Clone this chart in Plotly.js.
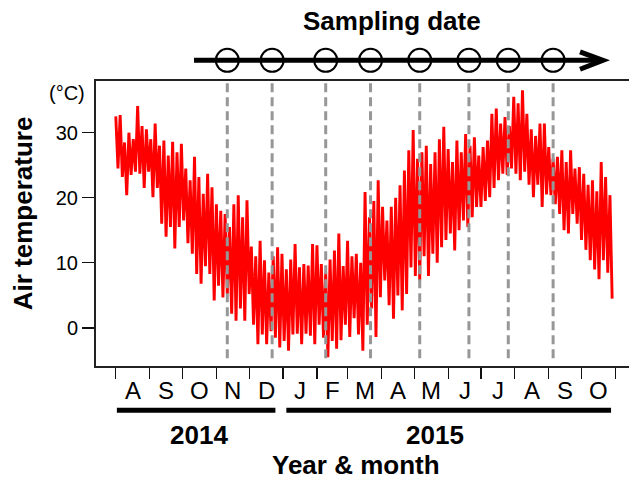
<!DOCTYPE html>
<html>
<head>
<meta charset="utf-8">
<script src="https://cdn.plot.ly/plotly-3.0.1.min.js"></script>
<style>html,body{margin:0;padding:0;background:#fff;}#chart{width:629px;height:479px;}</style>
</head>
<body>
<div id="chart"></div>
<script>
// ---- data ----
// first day of the series, values every 4 days (max) and offset by 2 days (min)
const seriesStart = '2014-08-01';
const dailyMax = [32.5,32.7,28.5,30.0,29.0,34.1,31.0,30.5,29.0,31.4,28.0,28.8,26.5,28.6,27.0,28.3,24.5,22.7,26.3,23.2,
  20.6,23.7,21.6,19.0,18.0,17.5,15.5,19.0,20.4,17.0,19.6,12.5,11.0,13.4,10.4,8.5,11.0,12.4,11.4,9.0,
  10.5,12.9,9.3,9.8,9.6,12.9,12.7,9.8,8.5,10.5,11.9,14.5,9.5,13.4,11.0,11.4,10.0,20.9,17.0,19.5,
  22.7,18.6,16.5,18.6,20.0,21.9,24.2,27.3,30.4,26.0,27.0,28.0,25.2,27.0,29.0,30.9,27.5,25.5,28.8,27.0,
  29.8,28.0,29.3,26.5,27.8,28.8,32.9,33.7,31.4,32.4,31.0,35.5,34.5,36.5,32.9,30.5,29.5,31.4,31.4,27.8,
  26.0,26.3,27.3,25.5,27.3,24.5,24.7,23.7,22.0,22.7,21.0,25.5,23.2,20.4];
const dailyMin = [24.5,23.2,20.4,23.5,24.0,23.7,21.5,24.0,20.1,21.5,16.0,14.0,15.5,12.2,15.5,16.5,13.0,11.4,8.3,6.8,
  9.5,8.3,4.2,6.5,4.7,5.2,2.2,1.1,3.0,1.1,5.2,0.5,-2.5,-1.0,-2.5,-0.5,-1.5,-3.0,-2.0,-3.5,
  -1.0,-0.9,-2.5,-0.9,-1.2,-2.5,0.5,-1.5,-4.5,-2.0,-3.2,-1.9,0.5,-1.4,1.5,-1.0,-3.5,0.5,3.0,-1.4,
  4.7,7.3,3.5,1.4,5.0,2.7,5.2,9.3,8.0,7.3,11.0,8.0,11.4,10.0,12.4,13.5,14.5,11.9,15.0,16.5,
  15.5,17.0,18.6,18.6,19.5,20.1,21.5,22.7,23.7,23.5,24.5,23.7,22.7,24.0,22.0,20.1,22.0,18.6,20.5,20.4,
  19.0,17.5,15.0,14.5,17.5,16.0,13.5,12.0,10.4,9.0,7.5,10.4,8.5,4.5];
const stepDays = 4;

// x axis: month boundaries and month letters
const monthStarts = ['2014-08-01','2014-09-01','2014-10-01','2014-11-01','2014-12-01','2015-01-01','2015-02-01',
  '2015-03-01','2015-04-01','2015-05-01','2015-06-01','2015-07-01','2015-08-01','2015-09-01','2015-10-01','2015-11-01'];
const monthLetters = ['A','S','O','N','D','J','F','M','A','M','J','J','A','S','O'];
const yTicks = [0,10,20,30];

// sampling dates
const sampleDates = ['2014-11-11','2014-12-22','2015-02-09','2015-03-22','2015-05-06','2015-06-20','2015-07-26','2015-09-05'];

// year bars
const yearLabels = ['2014','2015'];
const yearBarStart = ['2014-08-02','2015-01-04'];
const yearBarEnd = ['2014-12-25','2015-10-28'];

// ---- build ----
const DAY = 86400000;
const t0 = Date.parse(seriesStart + 'T00:00:00Z');
function iso(ms){ return new Date(ms).toISOString().slice(0,19).replace('T',' '); }
const lineX = [], lineY = [];
dailyMax.forEach((v,i)=>{
  lineX.push(iso(t0 + i*stepDays*DAY)); lineY.push(v);
  lineX.push(iso(t0 + (i*stepDays + stepDays/2)*DAY)); lineY.push(dailyMin[i]);
});

const midMonths = monthLetters.map((m,i)=>{
  const a = Date.parse(monthStarts[i]+'T00:00:00Z'), b = Date.parse(monthStarts[i+1]+'T00:00:00Z');
  return iso((a+b)/2);
});

const xRange = ['2014-07-13 21:36','2015-11-13 10:00'];
const FONT = 'Liberation Sans, Arial, Helvetica, sans-serif';

const traces = [{
  x: lineX, y: lineY, type: 'scatter', mode: 'lines',
  line: {color: '#ff0000', width: 2.9},
  hoverinfo: 'skip', showlegend: false
}];

const shapes = [];
sampleDates.forEach(d=>{
  shapes.push({type:'line', xref:'x', yref:'paper', x0:d, x1:d, y0:0.027, y1:1,
    line:{color:'#979797', width:3, dash:'9px,5px'}, layer:'above'});
});
// arrow
shapes.push({type:'line', xref:'paper', yref:'paper', x0:0.1839, x1:0.948, y0:1.0726, y1:1.0726,
  line:{color:'#000', width:5}});
shapes.push({type:'path', xref:'paper', yref:'paper',
  path:'M 0.9081,1.1025 L 0.9512,1.0726 L 0.9081,1.0411', line:{color:'#000', width:5}});
sampleDates.forEach(d=>{
  shapes.push({type:'circle', xref:'x', yref:'paper', xsizemode:'pixel', ysizemode:'pixel',
    xanchor:d, yanchor:1.0726, x0:-11.5, x1:11.5, y0:-11.5, y1:11.5,
    line:{color:'#000', width:2}, fillcolor:'rgba(0,0,0,0)'});
});
yearLabels.forEach((y,i)=>{
  shapes.push({type:'line', xref:'x', yref:'paper', x0:yearBarStart[i], x1:yearBarEnd[i], y0:-0.1554, y1:-0.1554,
    line:{color:'#000', width:5}});
});

const yearTextX = [0.1929, 0.6355];
const annotations = [
  {text:'<b>Sampling date</b>', xref:'paper', yref:'paper', x:0.5548, y:1.21, showarrow:false,
   font:{family:FONT, size:26, color:'#000'}, xanchor:'center', yanchor:'middle'},
  {text:'<b>Air temperature</b>', xref:'paper', yref:'paper', x:-0.137, y:0.5358, showarrow:false, textangle:-90,
   font:{family:FONT, size:26, color:'#000'}, xanchor:'center', yanchor:'middle'},
  {text:'(°C)', xref:'paper', yref:'paper', x:-0.0553, y:0.958, showarrow:false,
   font:{family:FONT, size:20, color:'#000'}, xanchor:'center', yanchor:'middle'},
  {text:'<b>Year &amp; month</b>', xref:'paper', yref:'paper', x:0.4874, y:-0.3474, showarrow:false,
   font:{family:FONT, size:26, color:'#000'}, xanchor:'center', yanchor:'middle'}
];
yearLabels.forEach((y,i)=>{
  annotations.push({text:'<b>'+y+'</b>', xref:'paper', yref:'paper', x:yearTextX[i], y:-0.2435, showarrow:false,
    font:{family:FONT, size:26, color:'#000'}, xanchor:'center', yanchor:'middle'});
});
monthLetters.forEach((m,i)=>{
  annotations.push({text:m, xref:'x', yref:'paper', x:midMonths[i], y:-0.0853, showarrow:false,
    font:{family:FONT, size:24, color:'#000'}, xanchor:'center', yanchor:'middle'});
});

const layout = {
  width: 629, height: 479,
  margin: {l:96, r:0, t:80.7, b:113.3, pad:0},
  paper_bgcolor:'#fff', plot_bgcolor:'#fff',
  showlegend:false,
  font:{family:FONT, color:'#000'},
  xaxis: {type:'date', range:xRange, tickmode:'array', tickvals:monthStarts, showticklabels:false,
    ticks:'outside', ticklen:11, tickwidth:1.3, tickcolor:'#111',
    showline:true, mirror:true, linecolor:'#222', linewidth:2, showgrid:false, zeroline:false},
  yaxis: {range:[-5.85, 37.94], tickmode:'array', tickvals:yTicks, ticks:'outside', ticklen:12, tickwidth:1.3,
    tickcolor:'#111', tickfont:{family:FONT, size:20, color:'#000'},
    showline:true, mirror:false, linecolor:'#222', linewidth:2, showgrid:false, zeroline:false},
  shapes: shapes,
  annotations: annotations
};

Plotly.newPlot('chart', traces, layout, {staticPlot:true, displayModeBar:false});
</script>
</body>
</html>
